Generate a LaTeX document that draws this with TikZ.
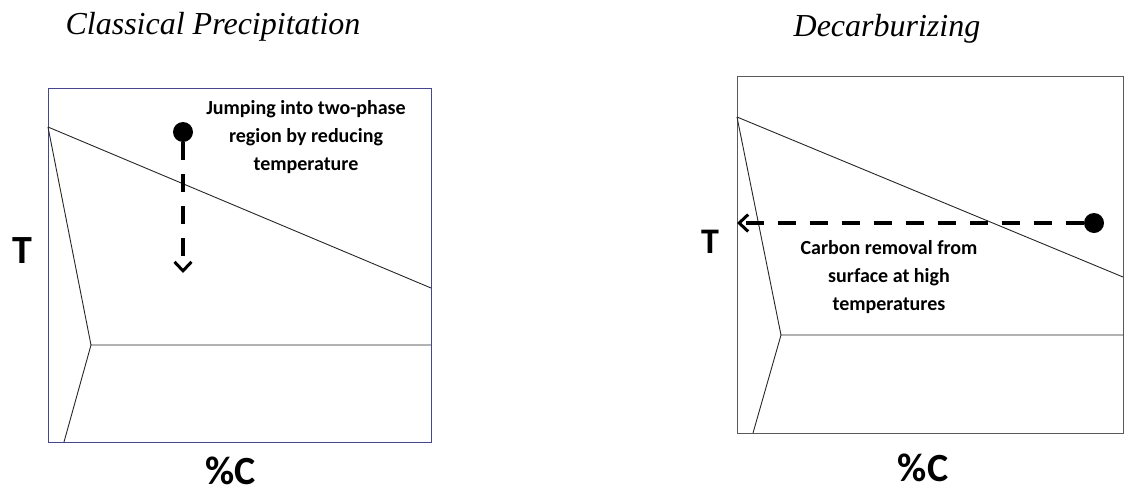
\documentclass[tikz,border=0pt]{standalone}
\usepackage{fontspec}
\setmainfont{Liberation Serif}
\newfontfamily\carl{Carlito}
\usetikzlibrary{arrows.meta}
\definecolor{navyframe}{RGB}{70,70,140}
\definecolor{grayframe}{RGB}{90,90,90}
\begin{document}
\begin{tikzpicture}[x=1pt,y=-1pt,
  phaseline/.style={line width=0.9pt, black!85},
  title/.style={font=\itshape\fontsize{32}{36}\selectfont},
  axislabel/.style={font=\carl\bfseries\fontsize{40}{44}\selectfont, inner sep=0pt},
  note/.style={font=\carl\bfseries\fontsize{20}{27.7}\selectfont, align=center},
  dot/.style={circle, fill=black, inner sep=0pt, minimum size=20pt},
  dasharrow/.style={line width=3.5pt, dash pattern=on 18pt off 14pt, -{Straight Barb[length=9pt,width=17pt,line width=3pt]}}
]
\useasboundingbox (0,0) rectangle (1124,496);

% ---------- left panel ----------
\node[title] (t1) at (213,27) {Classical Precipitation};
\draw[navyframe, line width=1pt] (48,88) rectangle (431,442);
\coordinate (l1) at (48,127);
\coordinate (l2) at (431,288);
\coordinate (l3) at (91,345);
\coordinate (l4) at (431,345);
\coordinate (l5) at (64,442);
\draw[phaseline] (l1) -- (l2);
\draw[phaseline] (l1) -- (l3) -- (l4);
\draw[phaseline] (l3) -- (l5);
\node[dot] (d1) at (183,132) {};
\coordinate (e1) at (183,273);
\draw[dasharrow] (d1.south) -- (e1);
\node[note] (n1) at (306,137) {Jumping into two-phase\\region by reducing\\temperature};
\node[axislabel] (T1) at (22,251) {T};
\node[axislabel] (C1) at (231,471) {\%C};

% ---------- right panel ----------
\node[title] (t2) at (887,29) {Decarburizing};
\draw[grayframe, line width=1pt] (737,76) rectangle (1123,433);
\coordinate (r1) at (737,117);
\coordinate (r2) at (1123,277);
\coordinate (r3) at (781,335);
\coordinate (r4) at (1123,335);
\coordinate (r5) at (753,433);
\draw[phaseline] (r1) -- (r2);
\draw[phaseline] (r1) -- (r3) -- (r4);
\draw[phaseline] (r3) -- (r5);
\node[dot] (d2) at (1094,223) {};
\coordinate (e2) at (737,223);
\draw[dasharrow] (d2.west) -- (e2);
\node[note] (n2) at (889,277) {Carbon removal from\\surface at high\\temperatures};
\node[axislabel, font=\carl\bfseries\fontsize{36}{40}\selectfont] (T2) at (710,242) {T};
\node[axislabel] (C2) at (923,468) {\%C};
\end{tikzpicture}
\end{document}
